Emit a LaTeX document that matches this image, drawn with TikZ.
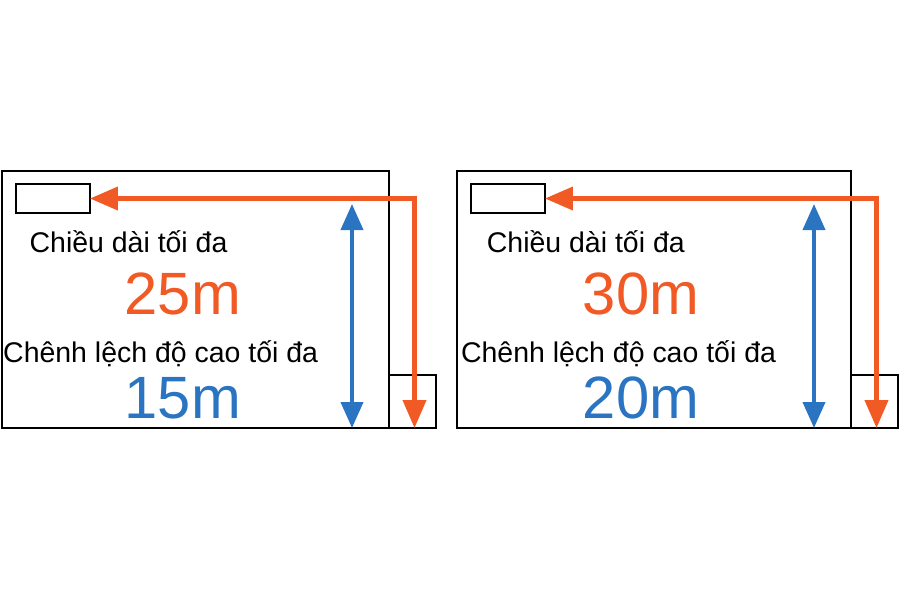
\documentclass[tikz,border=0pt]{standalone}
\usepackage{fontspec}
\setmainfont{Liberation Sans}
\usetikzlibrary{arrows.meta}
\definecolor{pipeorange}{RGB}{241,90,36}
\definecolor{liftblue}{RGB}{42,116,194}

\begin{document}
\begin{tikzpicture}
    [   x = 0.02cm
    ,   y = -0.02cm
    ,   unit/.style =
        {   draw
        ,   rectangle
        ,   line width = 1.2pt
        ,   inner sep = 0mm
        ,   outer sep = 0mm
        ,   anchor = north west
        }
    ,   pipe/.style =
        {   draw = pipeorange
        ,   line width = 2.3pt
        ,   {Triangle[length=5.6mm,width=4.6mm]}-{Triangle[length=5.6mm,width=4.6mm]}
        }
    ,   lift/.style =
        {   draw = liftblue
        ,   line width = 2.2pt
        ,   {Triangle[length=5.2mm,width=4.4mm]}-{Triangle[length=5.2mm,width=4.4mm]}
        }
    ,   caption/.style = {anchor = base, font = \fontsize{16.2}{18}\selectfont}
    ,   figure/.style = {anchor = base, font = \fontsize{34}{38}\selectfont}
    ]
    \useasboundingbox (0,0) rectangle (900,600);
    \foreach\x/\w/\lmax/\hmax in {2/387/25/15, 457/394/30/20}
    {   \node[unit, minimum width = \w*0.02cm, minimum height = 257*0.02cm] (room\lmax) at (\x,171) {};
        \node[unit, minimum width = 74*0.02cm, minimum height = 29*0.02cm] (indoor\lmax) at (\x+14,184) {};
        \node[unit, minimum width = 47*0.02cm, minimum height = 53*0.02cm] (outdoor\lmax) at (\x+\w,375) {};
        \coordinate (top\lmax) at (\x+\w-37,204);
        \node[caption] (len\lmax) at (\x+0.327*\w,252) {Chiều dài tối đa};
        \node[figure, text = pipeorange] (lenval\lmax) at (\x+0.467*\w,314) {\lmax m};
        \node[caption] (hgt\lmax) at (\x+0.41*\w,362) {Chênh lệch độ cao tối đa};
        \node[figure, text = liftblue] (hgtval\lmax) at (\x+0.467*\w,418) {\hmax m};
        \draw[pipe] (indoor\lmax.east) -| ([xshift=0.04cm]outdoor\lmax.south);
        \draw[lift] (top\lmax) -- (top\lmax |- room\lmax.south);
    }
\end{tikzpicture}
\end{document}
